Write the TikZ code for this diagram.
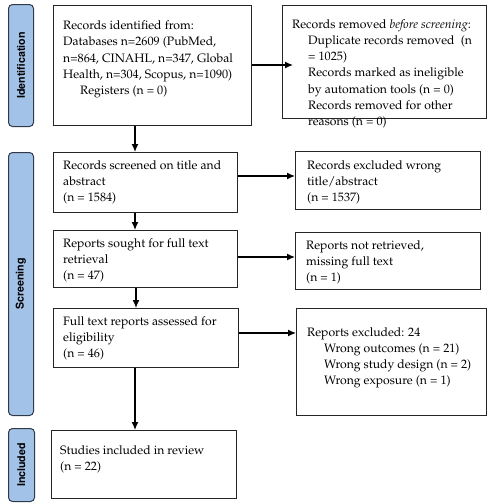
\documentclass[tikz,border=0pt]{standalone}
\usepackage[T1]{fontenc}
\usepackage{mathpazo}
\usepackage[scaled=0.92]{helvet}
\usetikzlibrary{arrows.meta}
\definecolor{barfill}{HTML}{A3C2E7}
\definecolor{barline}{HTML}{2F3A4A}
\begin{document}
\begin{tikzpicture}[x=1pt,y=-1pt,
  box/.style={draw=black!85,line width=0.9pt,inner sep=0pt,anchor=north west},
  txt/.style={inner sep=0pt,anchor=north west,align=left,font=\fontsize{12.2}{16.3}\selectfont},
  bar/.style={draw=barline,fill=barfill,line width=1pt,rounded corners=4pt,anchor=north west,inner sep=0pt},
  barlab/.style={rotate=90,font=\sffamily\bfseries\fontsize{11.6}{13}\selectfont,inner sep=0pt},
  arr/.style={line width=1.3pt,-{Latex[length=8pt,width=7pt]}}]
\useasboundingbox (0,0) rectangle (489,504);
% phase bars
\node[bar,minimum width=25pt,minimum height=122pt] (bid) at (8,4) {};
\node[barlab] (lid) at (bid.center) {Identification};
\node[bar,minimum width=25pt,minimum height=263pt] (bsc) at (8,152) {};
\node[barlab] (lsc) at (bsc.center) {Screening};
\node[bar,minimum width=26pt,minimum height=73pt] (bin) at (8,428) {};
\node[barlab] (lin) at (bin.center) {Included};
% left boxes
\node[box,minimum width=198pt,minimum height=120pt] (b1) at (53,5) {};
\node[txt] (t1) at (63,20.5) {Records identified from:\\Databases n=2609 (PubMed,\\n=864, CINAHL, n=347, Global\\Health, n=304, Scopus, n=1090)\\\hspace*{17pt}Registers (n = 0)};
\node[box,minimum width=184pt,minimum height=60pt] (b2) at (53,152) {};
\node[txt] (t2) at (63,160) {Records screened on title and\\abstract\\(n = 1584)};
\node[box,minimum width=184pt,minimum height=57pt] (b3) at (53,230) {};
\node[txt] (t3) at (63,238) {Reports sought for full text\\retrieval\\(n = 47)};
\node[box,minimum width=185pt,minimum height=59pt] (b4) at (53,308) {};
\node[txt] (t4) at (63,316) {Full text reports assessed for\\eligibility\\(n = 46)};
\node[box,minimum width=185pt,minimum height=68pt] (b5) at (51,430) {};
\node[txt] (t5) at (60,445) {Studies included in review\\(n = 22)};
% right boxes
\node[box,minimum width=204pt,minimum height=113pt] (r1) at (282,5) {};
\node[txt] (s1) at (292,19) {Records removed \emph{before screening}:\\
\hspace*{16pt}Duplicate records removed\ \ (n\\
\hspace*{16pt}= 1025)\\
\hspace*{16pt}Records marked as ineligible\\
\hspace*{16pt}by automation tools (n = 0)\\
\hspace*{16pt}Records removed for other\\
\hspace*{16pt}reasons (n = 0)};
\node[box,minimum width=185pt,minimum height=58pt] (r2) at (295,151) {};
\node[txt] (s2) at (307,160) {Records excluded wrong\\title/abstract\\(n = 1537)};
\node[box,minimum width=185pt,minimum height=57pt] (r3) at (295,232) {};
\node[txt] (s3) at (306,240) {Reports not retrieved,\\missing full text\\(n = 1)};
\node[box,minimum width=190pt,minimum height=107pt] (r4) at (296,308) {};
\node[txt] (s4) at (307,327) {Reports excluded: 24\\
\hspace*{17pt}Wrong outcomes (n = 21)\\
\hspace*{17pt}Wrong study design (n = 2)\\
\hspace*{17pt}Wrong exposure (n = 1)};
% vertical arrows
\draw[arr] (b1.south -| 135,0) -- (b2.north -| 135,0);
\draw[arr] (b2.south -| 135,0) -- (b3.north -| 135,0);
\draw[arr] (b3.south -| 136,0) -- (b4.north -| 136,0);
\draw[arr] (b4.south -| 135,0) -- (b5.north -| 135,0);
% horizontal arrows
\draw[arr,shorten >=-11pt] (b1.east |- 0,65) -- (r1.west |- 0,65);
\draw[arr] (b2.east |- 0,176) -- (r2.west |- 0,176);
\draw[arr] (b3.east |- 0,257) -- (r3.west |- 0,257);
\draw[arr] (b4.east |- 0,333) -- (r4.west |- 0,333);
\end{tikzpicture}
\end{document}
